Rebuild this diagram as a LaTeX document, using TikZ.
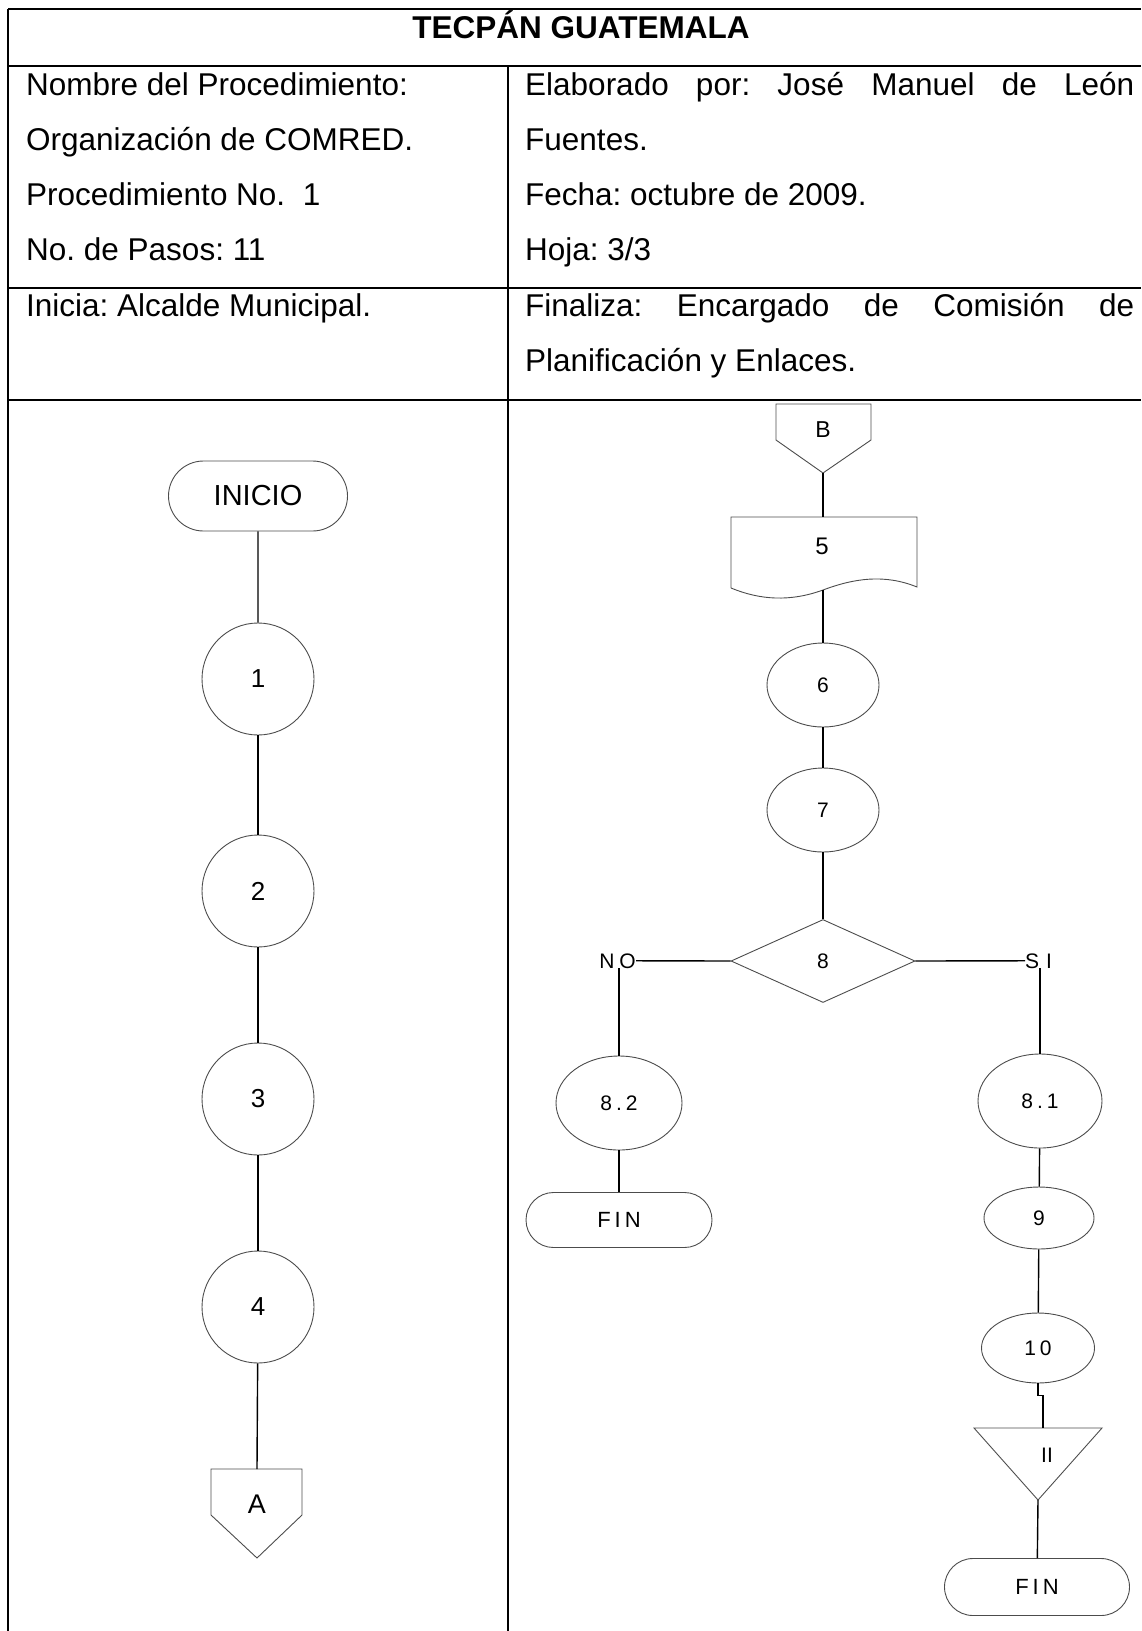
\documentclass[tikz,border=0pt]{standalone}
\usepackage{fontspec}
\setmainfont{Liberation Sans}
\usetikzlibrary{positioning, shapes.geometric, shapes.misc}

\newcommand{\esp}{\kern4pt}
\frenchspacing

\begin{document}
\begin{tikzpicture}[x=1pt, y=-1pt,
	tabla/.style={line width=1.5pt},
	txt/.style={anchor=base west, inner sep=0pt, font=\fontsize{31.5}{36}\selectfont},
	fig/.style={draw=black!70, line width=0.9pt, inner sep=0pt},
	link/.style={line width=1.4pt},
	term/.style={fig, rounded rectangle, minimum height=56pt},
	paso/.style={fig, circle, minimum size=112pt, font=\fontsize{26}{30}\selectfont},
	oval/.style={fig, ellipse, font=\fontsize{21}{25}\selectfont},
	lbl/.style={inner sep=0pt, font=\fontsize{21}{25}\selectfont}]
	\useasboundingbox (0,0) rectangle (1141,1631);

	%table lines:
	\draw[tabla] (8,9) -- (1141,9);
	\draw[tabla] (8,66) -- (1141,66);
	\draw[tabla] (8,288) -- (1141,288);
	\draw[tabla] (8,400) -- (1141,400);
	\draw[tabla] (8,9) -- (8,1631);
	\draw[tabla] (508,66) -- (508,1631);

	%header:
	\node[anchor=base, inner sep=0pt, font=\bfseries\fontsize{31.5}{36}\selectfont] (titulo) at (581,38) {TECPÁN GUATEMALA};
	\node[txt] (nombre) at (26,95) {Nombre del Procedimiento:};
	\node[txt] (organiz) at (26,150) {Organización de COMRED.};
	\node[txt] (procnum) at (26,205) {Procedimiento No.\ \ 1};
	\node[txt] (pasos) at (26,260) {No. de Pasos: 11};
	\node[txt] (inicia) at (26,316) {Inicia: Alcalde Municipal.};
	\node[txt] (elab) at (525,95) {\makebox[609pt][s]{Elaborado por: José Manuel de León}};
	\node[txt] (fuentes) at (525,150) {Fuentes.};
	\node[txt] (fecha) at (525,205) {Fecha: octubre de 2009.};
	\node[txt] (hoja) at (525,260) {Hoja: 3/3};
	\node[txt] (finaliza) at (525,316) {\makebox[609pt][s]{Finaliza: Encargado de Comisión de}};
	\node[txt] (planif) at (525,371) {Planificación y Enlaces.};

	%left column
	\node[term, minimum width=179pt, minimum height=70pt, font=\fontsize{29}{34}\selectfont] (inicio) at (258,496) {INICIO};
	\node[paso] (p1) at (258,679) {1};
	\node[paso] (p2) at (258,891) {2};
	\node[paso] (p3) at (258,1099) {3};
	\node[paso] (p4) at (258,1307) {4};
	\draw[fig] (211,1469) -- (302,1469) -- (302,1515) -- (257,1558) -- (211,1515) -- cycle;
	\coordinate (aTop) at (257,1469);
	\node[inner sep=0pt, font=\fontsize{27}{32}\selectfont] (conA) at (257,1504) {A};
	\draw[link] (inicio) -- (p1);
	\draw[link] (p1) -- (p2);
	\draw[link] (p2) -- (p3);
	\draw[link] (p3) -- (p4);
	\draw[link] (p4) -- (aTop);

	%right column
	\draw[fig] (776,404) -- (871,404) -- (871,440) -- (823,473) -- (776,440) -- cycle;
	\coordinate (bTip) at (823,473);
	\node[lbl, font=\fontsize{23}{28}\selectfont] (conB) at (823,430) {B};
	\draw[fig] (731,588) -- (731,517) -- (917,517) -- (917,587)
		.. controls (885,574) and (855,578) .. (823,590)
		.. controls (790,602) and (760,600) .. (731,588);
	\coordinate (docTop) at (823,517);
	\coordinate (docBot) at (823,590);
	\node[lbl, font=\fontsize{24}{28}\selectfont] (doc5) at (822,546) {5};
	\node[oval, minimum width=112pt, minimum height=84pt] (p6) at (823,685) {6};
	\node[oval, minimum width=112pt, minimum height=84pt] (p7) at (823,810) {7};
	\node[fig, diamond, minimum width=184pt, minimum height=83pt, font=\fontsize{21}{25}\selectfont] (d8) at (823,961) {8};
	\node[lbl, anchor=base east] (no) at (636,968) {N\kern5pt O};
	\node[lbl, anchor=base west] (si) at (1025,968) {S\kern7pt I};

	%NO branch
	\node[oval, minimum width=126pt, minimum height=94pt] (p82) at (619,1103) {8\esp.\esp2};
	\node[term, minimum width=186pt, minimum height=55pt, font=\fontsize{22}{26}\selectfont] (finNo) at (619,1220) {F\esp I\esp N};
	\draw[link] (d8.west) -- (no.east);
	\draw[link] (no.south -| p82.north) -- (p82.north);
	\draw[link] (p82) -- (finNo);

	%SI branch
	\node[oval, minimum width=124pt, minimum height=94pt] (p81) at (1040,1101) {8\esp.\esp1};
	\node[oval, minimum width=110pt, minimum height=62pt] (p9) at (1039,1218) {9};
	\node[oval, minimum width=113pt, minimum height=70pt] (p10) at (1038,1348) {1\esp0};
	\draw[fig] (974,1428) -- (1102,1428) -- (1038,1500) -- cycle;
	\coordinate (triTop) at (1043,1428);
	\coordinate (triTip) at (1038,1500);
	\node[lbl] (tri) at (1047,1455) {II};
	\node[term, minimum width=185pt, minimum height=57pt, font=\fontsize{22}{26}\selectfont] (finSi) at (1037,1587) {F\esp I\esp N};
	\draw[link] (d8.east) -- (si.west);
	\draw[link] (si.south -| p81.north) -- (p81.north);
	\draw[link] (p81) -- (p9);
	\draw[link] (p9) -- (p10);
	\draw[link] (p10.south) -- ++(0,12) -| (triTop);
	\draw[link] (triTip) -- (finSi);

	\draw[link] (bTip) -- (docTop);
	\draw[link] (docBot) -- (p6);
	\draw[link] (p6) -- (p7);
	\draw[link] (p7) -- (d8);
\end{tikzpicture}
\end{document}
